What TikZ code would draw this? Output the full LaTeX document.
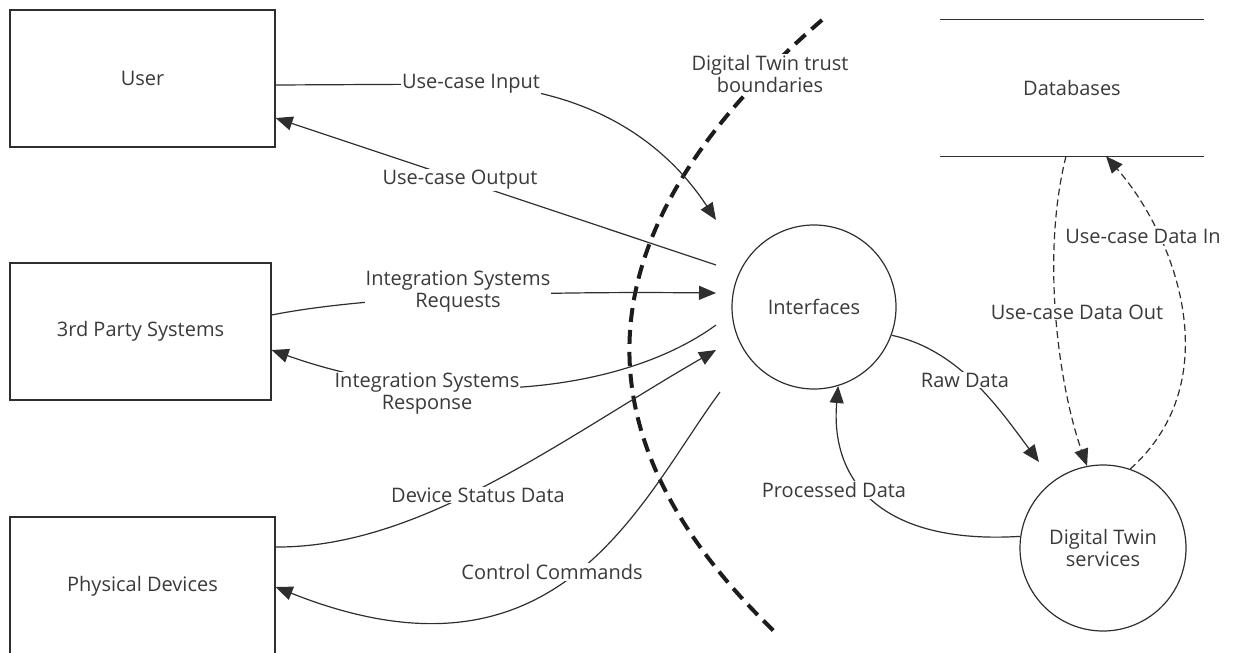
\documentclass[tikz,border=0pt]{standalone}
\usepackage{fontspec}
\setmainfont{Open Sans}
\usetikzlibrary{arrows.meta,positioning}
\tikzset{
  box/.style={draw=linegray, line width=1.2pt, inner sep=0pt, text=textgray},
  proc/.style={draw=linegray, circle, line width=1.2pt, inner sep=0pt, align=center, text=textgray},
  lbl/.style={fill=white, inner sep=1pt, align=center, text=textgray},
  link/.style={draw=linegray, line width=1.2pt},
  flow/.style={link, -{Triangle[length=17pt,width=14pt]}},
  dataflow/.style={flow, dash pattern=on 7pt off 4pt}
}
\begin{document}
\begin{tikzpicture}[x=1pt,y=-1pt,font=\fontsize{20}{22}\selectfont]
\definecolor{linegray}{HTML}{2E2E2E}
\definecolor{textgray}{HTML}{3A3A3A}
\useasboundingbox (0,0) rectangle (1237,653);
% external entities
\node[box, minimum width=265, minimum height=137] (user) at (142.5,78.5) {User};
\node[box, minimum width=261, minimum height=137] (tps) at (140.5,331.5) {3rd Party Systems};
\node[box, minimum width=265, minimum height=138] (phys) at (142.5,586) {Physical Devices};
% data store
\node[text=textgray, minimum width=264, minimum height=136] (db) at (1072,88) {Databases};
\draw[link] (db.north west) -- (db.north east);
\draw[link] (db.south west) -- (db.south east);
% processes
\node[proc, minimum size=164] (if) at (814,307) {Interfaces};
\node[proc, minimum size=166] (dt) at (1103,548) {Digital Twin\\services};
% free ends next to the interfaces
\coordinate (ifin1) at (716,220);
\coordinate (ifout1) at (716,265);
\coordinate (ifin2) at (716,293);
\coordinate (ifout2) at (716,325);
\coordinate (ifin3) at (716,350);
\coordinate (ifout3) at (720,392);
\coordinate (dtin) at (1039,462);
% trust boundary
\draw[linegray!60!black, line width=4pt, dash pattern=on 14pt off 8pt] (822,20) .. controls (581,228) and (566,433) .. (778,635);
\node[lbl] (trust) at (770,74) {Digital Twin trust\\boundaries};
% flows across the boundary
\draw[flow] (user.east |- 0,85) -- (471,84) .. controls (600,90) and (670,150) .. (ifin1);
\draw[flow] (ifout1) -- (user.east |- 0,118);
\draw[flow] (tps.east |- 0,315) .. controls (357,298) and (505,291) .. (ifin2);
\draw[flow] (ifout2) .. controls (620,395) and (440,410) .. (tps.east |- 0,350);
\draw[flow] (phys.east |- 0,547) .. controls (420,548) and (560,440) .. (ifin3);
\draw[flow] (ifout3) .. controls (640,500) and (560,700) .. (phys.east |- 0,587);
% internal flows
\draw[flow] (if.-20) .. controls (960,350) and (1000,410) .. (dtin);
\draw[flow] (dt.172) .. controls (880,545) and (830,480) .. (if.-73);
\draw[dataflow] (db.south -| 1066,0) .. controls (1040,260) and (1060,390) .. (dt.101);
\draw[dataflow] (dt.71) .. controls (1230,380) and (1175,235) .. (db.south -| 1106,0);
% flow labels
\node[lbl] (lin) at (471,84) {Use-case Input};
\node[lbl] (lout) at (460,180) {Use-case Output};
\node[lbl] (lreq) at (458,292) {Integration Systems\\Requests};
\node[lbl] (lresp) at (427,394) {Integration Systems\\Response};
\node[lbl] (lstat) at (478,495) {Device Status Data};
\node[lbl] (lcmd) at (552,572) {Control Commands};
\node[lbl] (lraw) at (965,380) {Raw Data};
\node[lbl] (lproc) at (834,490) {Processed Data};
\node[lbl] (ldout) at (1077,312) {Use-case Data Out};
\node[lbl] (ldin) at (1143,236) {Use-case Data In};
\end{tikzpicture}
\end{document}
